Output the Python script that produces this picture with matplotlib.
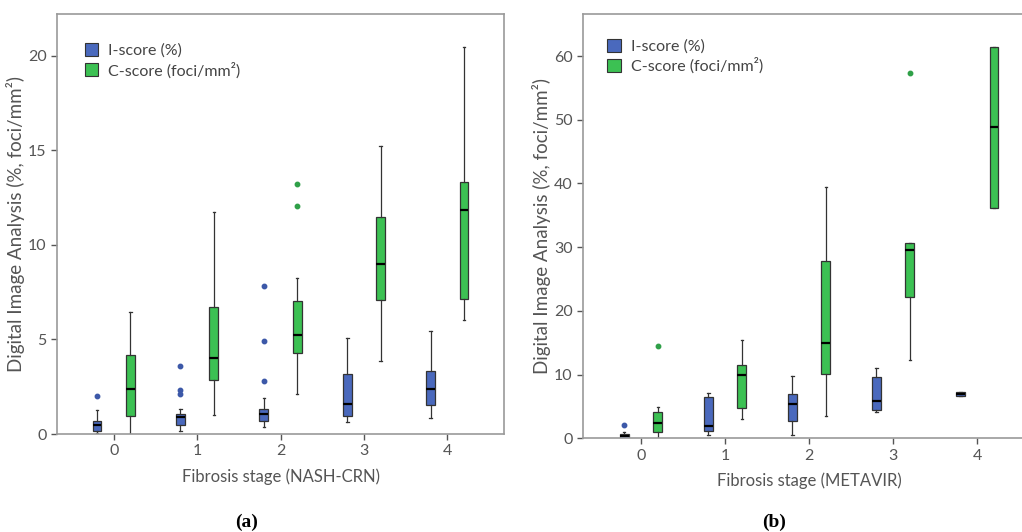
import matplotlib
matplotlib.use("Agg")
import matplotlib.pyplot as plt
from matplotlib.patches import Patch

plt.rcParams['font.family'] = ['Lato', 'DejaVu Sans']

stages = [0, 1, 2, 3, 4]

# Panel (a) NASH-CRN: (whislo, q1, med, q3, whishi, fliers)
a_i = [(0.03, 0.16, 0.48, 0.69, 1.27, [2.0]),
       (0.16, 0.48, 0.88, 1.08, 1.30, [2.13, 2.33, 3.6]),
       (0.35, 0.71, 1.08, 1.30, 1.89, [2.82, 4.89, 7.83]),
       (0.63, 0.95, 1.57, 3.16, 5.06, []),
       (0.86, 1.52, 2.36, 3.32, 5.47, [])]
a_c = [(0.0, 0.95, 2.36, 4.16, 6.47, []),
       (1.0, 2.86, 4.04, 6.72, 11.73, []),
       (2.1, 4.30, 5.24, 7.02, 8.27, [12.06, 13.24]),
       (3.86, 7.09, 9.0, 11.48, 15.2, []),
       (6.0, 7.13, 11.82, 13.33, 20.46, [])]

# Panel (b) METAVIR
b_i = [(0.0, 0.12, 0.35, 0.6, 1.0, [2.15]),
       (0.47, 1.1, 1.88, 6.44, 7.17, []),
       (0.58, 2.72, 5.45, 6.9, 9.74, []),
       (4.14, 4.4, 5.81, 9.63, 11.1, []),
       (6.6, 6.6, 6.96, 7.28, 7.28, [])]
b_c = [(0.0, 1.05, 2.46, 4.08, 4.92, [14.55]),
       (3.04, 4.82, 10.0, 11.57, 15.45, []),
       (3.56, 10.05, 14.97, 27.85, 39.5, []),
       (12.36, 22.25, 29.58, 30.73, 30.73, [57.4]),
       (36.1, 36.1, 48.8, 61.4, 61.4, [])]

xlabels = ["Fibrosis stage (NASH-CRN)", "Fibrosis stage (METAVIR)"]
ylabel = "Digital Image Analysis (%, foci/mm²)"
legend_labels = ["I-score (%)", "C-score (foci/mm²)"]
captions = ["(a)", "(b)"]

BLUE = "#4a69bd"
GREEN = "#3cc153"
BLUE_F = "#3c58a8"
GREEN_F = "#2fa048"
EDGE = "#333333"
FRAME = "#9a9a9a"

fig = plt.figure(figsize=(10.22, 5.32), dpi=100)
axA = fig.add_axes([0.0558, 0.1842, 0.4374, 0.7895])
axB = fig.add_axes([0.5705, 0.1761, 0.4423, 0.7976])


def stats(rows):
    out = []
    for lo, q1, med, q3, hi, fl in rows:
        out.append(dict(whislo=lo, q1=q1, med=med, q3=q3, whishi=hi, fliers=fl))
    return out


def draw(ax, irows, crows, ylim, yticks, xlabel, caption, cap_x, legend_pos):
    for rows, color, fcol, off in [(irows, BLUE, BLUE_F, -0.2), (crows, GREEN, GREEN_F, 0.2)]:
        pos = [s + off for s in stages]
        ax.bxp(stats(rows), positions=pos, widths=0.105, patch_artist=True,
               capwidths=0.03, manage_ticks=False,
               boxprops=dict(facecolor=color, edgecolor=EDGE, linewidth=0.9),
               medianprops=dict(color="black", linewidth=1.6),
               whiskerprops=dict(color=EDGE, linewidth=0.9),
               capprops=dict(color=EDGE, linewidth=0.9),
               flierprops=dict(marker='o', markersize=3.2, markerfacecolor=fcol,
                               markeredgecolor=fcol))
    ax.set_ylim(*ylim)
    ax.set_xticks(stages)
    ax.set_xticklabels([str(s) for s in stages])
    ax.set_yticks(yticks)
    for sp in ax.spines.values():
        sp.set_color(FRAME)
        sp.set_linewidth(1.2)
    ax.tick_params(colors="#555555", labelsize=11.5, length=4, width=1, labelcolor="#555555")
    ax.set_xlabel(xlabel, fontsize=12, color="#555555", labelpad=7)
    ax.set_ylabel(ylabel, fontsize=13.5, color="#555555", labelpad=2)
    handles = [Patch(facecolor=BLUE, edgecolor=EDGE, linewidth=0.8),
               Patch(facecolor=GREEN, edgecolor=EDGE, linewidth=0.8)]
    leg = ax.legend(handles, legend_labels, loc='upper left', bbox_to_anchor=legend_pos,
                    frameon=False, handlelength=0.85, handleheight=0.85,
                    handletextpad=0.6, labelspacing=0.25, fontsize=11.5)
    for t in leg.get_texts():
        t.set_color("#444444")
    fig.text(cap_x, 0.019, caption, ha='center', va='center',
             fontsize=14, fontweight='bold', family='Liberation Serif')


draw(axA, a_i, a_c, (0, 22.2), [0, 5, 10, 15, 20], xlabels[0], captions[0], 0.2417, (0.03, 0.965))
draw(axB, b_i, b_c, (0, 66.6), [0, 10, 20, 30, 40, 50, 60], xlabels[1], captions[1], 0.757, (0.022, 0.975))
axA.set_xlim(-0.68, 4.68)
axB.set_xlim(-0.69, 4.69)

fig.savefig("out.png", dpi=100)
